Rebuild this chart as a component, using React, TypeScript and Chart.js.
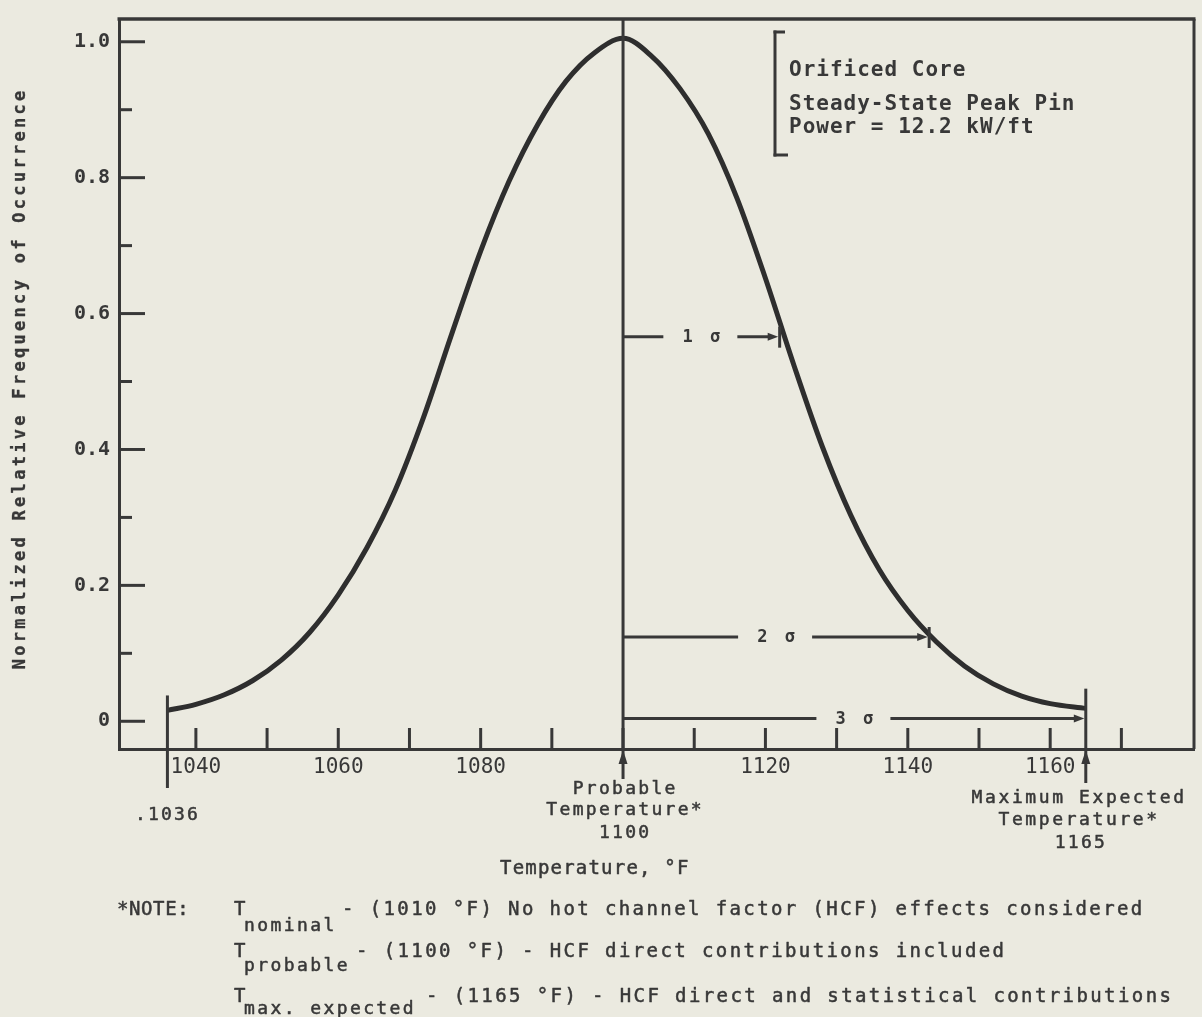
import React, { useEffect, useRef } from "react";
import { Chart, registerables } from "chart.js";

Chart.register(...registerables);

// Distribution curve: temperature (°F) against normalized relative frequency
const temperatureF = [
  1036, 1040, 1044, 1048, 1052, 1056, 1060, 1064, 1068, 1072, 1076, 1080, 1084, 1088, 1092, 1096,
  1100, 1104, 1108, 1112, 1116, 1120, 1124, 1128, 1132, 1136, 1140, 1144, 1148, 1152, 1156, 1160, 1165,
];
const relativeFrequency = [
  0.016, 0.025, 0.039, 0.06, 0.09, 0.131, 0.186, 0.255, 0.34, 0.448, 0.572, 0.692, 0.795, 0.878, 0.942, 0.984,
  1.005, 0.979, 0.931, 0.864, 0.77, 0.652, 0.524, 0.404, 0.303, 0.223, 0.163, 0.117, 0.081, 0.055, 0.037, 0.026, 0.019,
];

// Axis ticks and labels
const xTickValues = [1040, 1050, 1060, 1070, 1080, 1090, 1100, 1110, 1120, 1130, 1140, 1150, 1160, 1170];
const xLabelValues = [1040, 1060, 1080, 1120, 1140, 1160];
const yTickValues = [0, 0.1, 0.2, 0.3, 0.4, 0.5, 0.6, 0.7, 0.8, 0.9, 1.0];
const yLabelValues = [0, 0.2, 0.4, 0.6, 0.8, 1.0];
const xRange = [1029.2, 1180.2];
const yRange = [-0.0408, 1.0335];

// Reference temperatures and sigma spans
const lowestTemp = 1036;
const probableTemp = 1100;
const maxExpectedTemp = 1165;
const lowestTop = 0.038;
const maxExpectedTop = 0.048;
const sigmaLabels = ["1 σ", "2 σ", "3 σ"];
const sigmaTemps = [1122, 1143, 1165];
const sigmaLevels = [0.566, 0.124, 0.004];

const yTitle = "Normalized Relative Frequency of Occurrence";
const xTitle = "Temperature, °F";
const boxLines = ["Orificed Core", "Steady-State Peak Pin", "Power = 12.2 kW/ft"];

const PAPER = "#ebeae0";
const INK = "#383838";
const CURVE = "#2e2e2e";
const MONO = "'DejaVu Sans Mono', 'Liberation Mono', monospace";

function spaced(
  ctx: CanvasRenderingContext2D,
  text: string,
  x: number,
  y: number,
  spacing: number,
  align: "left" | "center" | "right" = "left",
  stroke = 0.5
) {
  const chars = Array.from(text);
  const widths = chars.map((c) => ctx.measureText(c).width);
  const total = widths.reduce((a, b) => a + b, 0) + spacing * (chars.length - 1);
  let cx = align === "center" ? x - total / 2 : align === "right" ? x - total : x;
  ctx.textAlign = "left";
  ctx.lineWidth = stroke;
  chars.forEach((c, i) => {
    ctx.fillText(c, cx, y);
    if (stroke > 0) ctx.strokeText(c, cx, y);
    cx += widths[i] + spacing;
  });
  return cx;
}

const paperPlugin = {
  id: "paper",
  beforeDraw(chart: any) {
    const { ctx, width, height } = chart;
    ctx.save();
    ctx.fillStyle = PAPER;
    ctx.fillRect(0, 0, width, height);
    ctx.restore();
  },
};

const figurePlugin = {
  id: "figureMarks",
  afterDraw(chart: any) {
    const { ctx, chartArea: ca, scales } = chart;
    const xs = scales.x;
    const ys = scales.y;
    const X = (v: number) => xs.getPixelForValue(v);
    const Y = (v: number) => ys.getPixelForValue(v);

    ctx.save();
    ctx.strokeStyle = INK;
    ctx.fillStyle = INK;
    ctx.lineCap = "butt";
    ctx.lineJoin = "round";
    const seg = (x1: number, y1: number, x2: number, y2: number, w: number) => {
      ctx.lineWidth = w;
      ctx.beginPath();
      ctx.moveTo(x1, y1);
      ctx.lineTo(x2, y2);
      ctx.stroke();
    };

    // frame: top and right edges
    seg(ca.left - 1.5, ca.top, ca.right + 1.5, ca.top, 3.5);
    seg(ca.right, ca.top, ca.right, ca.bottom, 3);

    // inward tick marks
    xs.ticks.forEach((_t: any, i: number) => {
      const px = xs.getPixelForTick(i);
      seg(px, ca.bottom, px, ca.bottom - 21, 3);
    });
    ys.ticks.forEach((t: any, i: number) => {
      const py = ys.getPixelForTick(i);
      const major = yLabelValues.includes(t.value);
      seg(ca.left, py, ca.left + (major ? 26 : 13), py, 3);
    });

    // reference temperature lines
    const upArrow = (px: number, tipY: number) => {
      ctx.beginPath();
      ctx.moveTo(px, tipY);
      ctx.lineTo(px - 4.5, tipY + 14);
      ctx.lineTo(px + 4.5, tipY + 14);
      ctx.closePath();
      ctx.fill();
    };
    const xl = X(lowestTemp);
    seg(xl, Y(lowestTop), xl, ca.bottom + 39, 3);
    const xp = X(probableTemp);
    seg(xp, ca.top, xp, ca.bottom + 30, 3);
    upArrow(xp, ca.bottom + 1);
    const xm = X(maxExpectedTemp);
    seg(xm, Y(maxExpectedTop), xm, ca.bottom + 34, 3);
    upArrow(xm, ca.bottom + 1);

    // sigma spans
    sigmaLabels.forEach((lab, i) => {
      const py = Y(sigmaLevels[i]);
      const xe = X(sigmaTemps[i]);
      const mid = (xp + xe) / 2;
      seg(xp, py, mid - 38, py, 3);
      seg(mid + 36, py, xe - 9, py, 3);
      ctx.beginPath();
      ctx.moveTo(xe - 1.5, py);
      ctx.lineTo(xe - 12, py - 4);
      ctx.lineTo(xe - 12, py + 4);
      ctx.closePath();
      ctx.fill();
      if (i < 2) seg(xe, py - 10, xe, py + 11, 3);
      ctx.font = `bold 17px ${MONO}`;
      ctx.textBaseline = "middle";
      spaced(ctx, lab, mid, py + 1, 3.5, "center", 0);
    });

    // case description bracket
    seg(775, 30.5, 775, 156.5, 3);
    seg(773.5, 32, 785, 32, 3);
    seg(773.5, 155, 788, 155, 3);
    ctx.font = `bold 21px ${MONO}`;
    ctx.textBaseline = "alphabetic";
    spaced(ctx, boxLines[0], 789, 76, 1.0, "left", 0);
    spaced(ctx, boxLines[1], 789, 110, 1.0, "left", 0);
    spaced(ctx, boxLines[2], 789, 133, 1.0, "left", 0);

    // y-axis title
    ctx.save();
    ctx.translate(21, (ca.top + ca.bottom) / 2 - 4);
    ctx.rotate(-Math.PI / 2);
    ctx.font = `bold 17px ${MONO}`;
    ctx.textBaseline = "middle";
    spaced(ctx, yTitle, 0, 0, 3.3, "center", 0.3);
    ctx.restore();

    // captions under the axis
    ctx.font = `18px ${MONO}`;
    ctx.textBaseline = "alphabetic";
    spaced(ctx, ".1036", xl - 1, 820, 2.2, "center");
    spaced(ctx, "Probable", xp + 1, 794, 2.3, "center");
    spaced(ctx, "Temperature*", xp + 1, 815, 2.3, "center");
    spaced(ctx, "1100", xp + 1, 838, 2.3, "center");
    spaced(ctx, "Maximum Expected", xm - 8, 803, 2.6, "center");
    spaced(ctx, "Temperature*", xm - 8, 825, 2.6, "center");
    spaced(ctx, "1165", xm - 6, 848, 2.3, "center");
    ctx.font = `19px ${MONO}`;
    spaced(ctx, xTitle, 500, 874, 1.2);

    // notes
    ctx.font = `19px ${MONO}`;
    spaced(ctx, "*NOTE:", 117, 915, 0.6);
    const noteRows = [
      { sub: "nominal", rest: "- (1010 °F) No hot channel factor (HCF) effects considered", y: 915, sy: 931, rx: 342 },
      { sub: "probable", rest: "- (1100 °F) - HCF direct contributions included", y: 957, sy: 971, rx: 356 },
      { sub: "max. expected", rest: "- (1165 °F) - HCF direct and statistical contributions", y: 1002, sy: 1014, rx: 426 },
    ];
    noteRows.forEach((r) => {
      ctx.font = `19px ${MONO}`;
      spaced(ctx, "T", 234, r.y, 0);
      spaced(ctx, r.rest, r.rx, r.y, 2.4);
      ctx.font = `18px ${MONO}`;
      spaced(ctx, r.sub, 244, r.sy, 2.4);
    });

    ctx.restore();
  },
};

export default function App() {
  const ref = useRef<HTMLCanvasElement>(null);

  useEffect(() => {
    document.body.style.margin = "0";
    document.body.style.background = PAPER;
    const canvas = ref.current;
    if (!canvas) return;

    const chart = new Chart(canvas, {
      type: "line",
      data: {
        datasets: [
          {
            data: temperatureF.map((t, i) => ({ x: t, y: relativeFrequency[i] })),
            borderColor: CURVE,
            borderWidth: 5,
            pointRadius: 0,
            fill: false,
            cubicInterpolationMode: "monotone",
            clip: false as any,
          },
        ],
      },
      options: {
        responsive: false,
        animation: false,
        devicePixelRatio: 1,
        layout: { padding: { top: 11, right: 8, bottom: 0, left: 0 } },
        plugins: { legend: { display: false }, tooltip: { enabled: false } },
        scales: {
          x: {
            type: "linear",
            min: xRange[0],
            max: xRange[1],
            afterBuildTicks: (s: any) => {
              s.ticks = xTickValues.map((v) => ({ value: v }));
            },
            afterFit: (s: any) => {
              s.height = 268;
            },
            grid: { display: false, drawTicks: false },
            border: { display: true, color: INK, width: 3 },
            ticks: {
              padding: 6,
              autoSkip: false,
              maxRotation: 0,
              color: INK,
              font: { family: MONO, size: 21 },
              callback: (v: any) => (xLabelValues.includes(Number(v)) ? String(v) : ""),
            },
          },
          y: {
            type: "linear",
            min: yRange[0],
            max: yRange[1],
            afterBuildTicks: (s: any) => {
              s.ticks = yTickValues.map((v) => ({ value: v }));
            },
            afterFit: (s: any) => {
              s.width = 119;
            },
            grid: { display: false, drawTicks: false },
            border: { display: true, color: INK, width: 3 },
            ticks: {
              padding: 9,
              color: INK,
              font: { family: MONO, size: 20, weight: "bold", lineHeight: 1 },
              callback: (v: any) => {
                const n = Number(v);
                if (!yLabelValues.includes(n)) return "";
                return n === 0 ? "0" : n.toFixed(1);
              },
            },
          },
        },
      },
      plugins: [paperPlugin, figurePlugin],
    });

    return () => chart.destroy();
  }, []);

  return (
    <div style={{ width: 1202, height: 1017, background: PAPER }}>
      <canvas ref={ref} width={1202} height={1017} style={{ display: "block" }} />
    </div>
  );
}
